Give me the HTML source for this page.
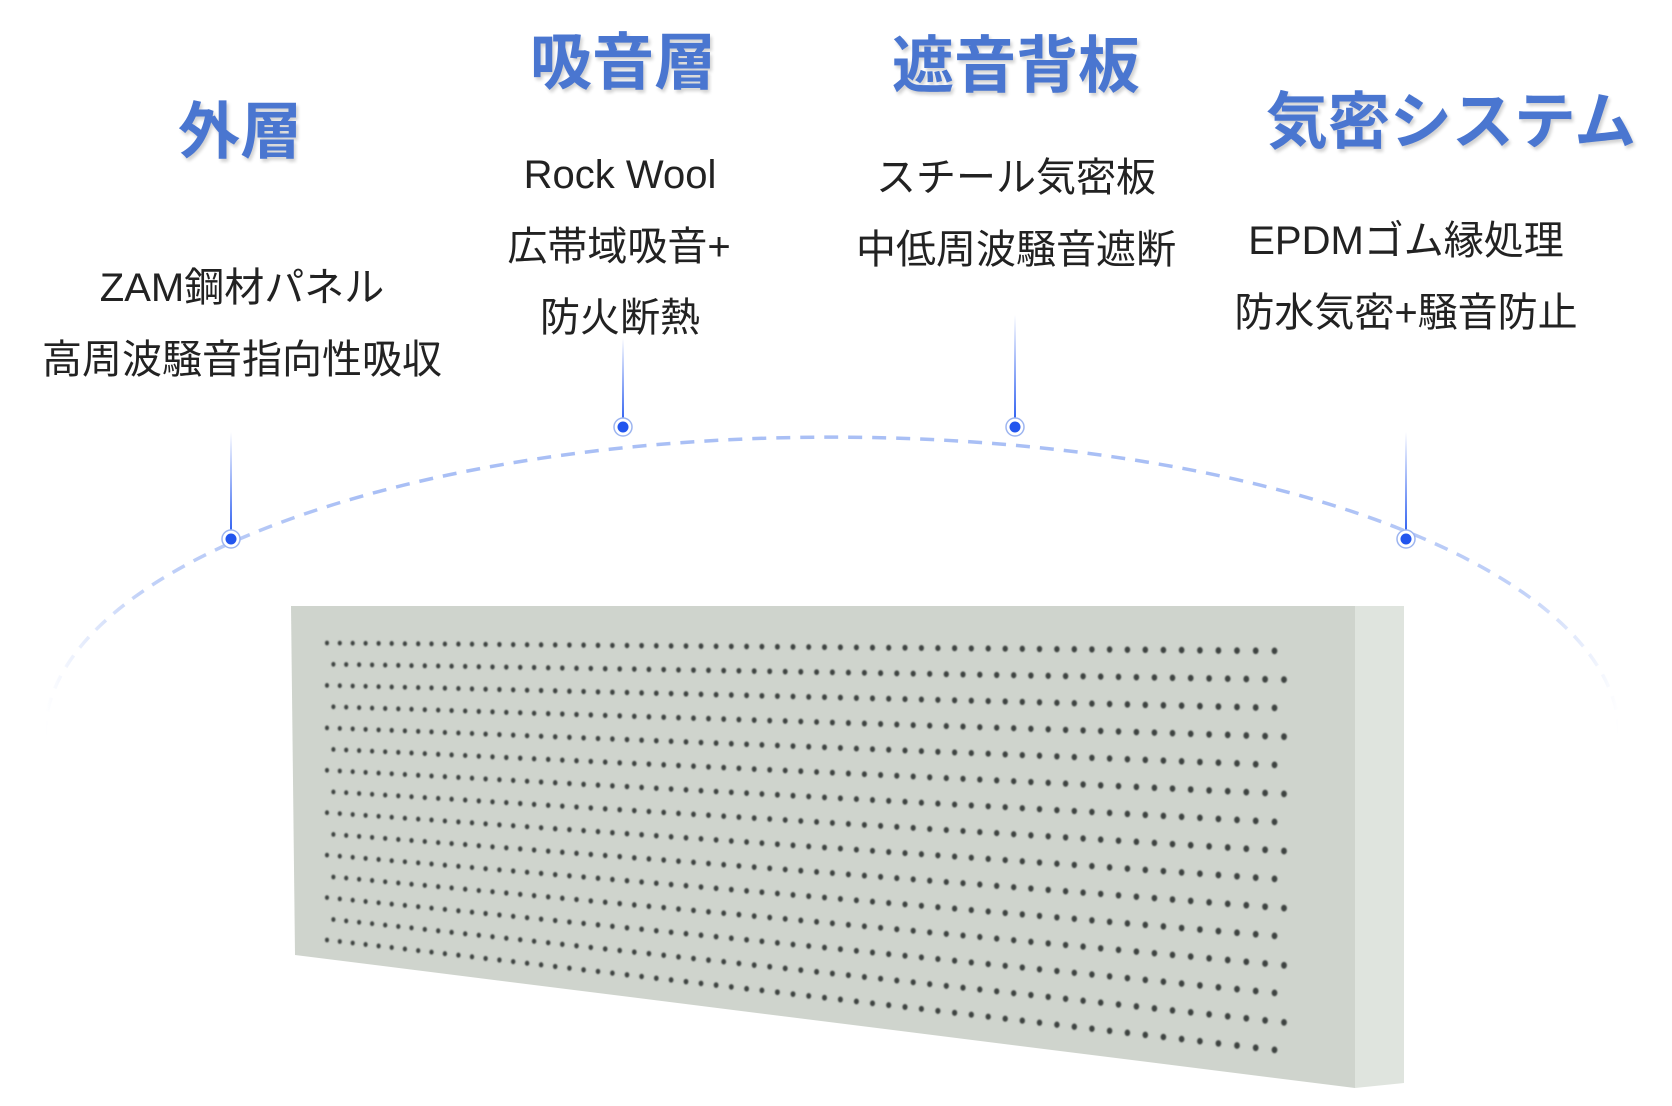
<!DOCTYPE html>
<html><head><meta charset="utf-8"><style>
html,body{margin:0;padding:0;background:#fff;}
body{width:1672px;height:1106px;position:relative;overflow:hidden;font-family:"Liberation Sans","Noto Sans CJK JP",sans-serif;}
.t{position:absolute;transform:translate(-50%,-50%);white-space:nowrap;color:#4a76d0;font-weight:bold;font-size:62px;text-shadow:2px 3px 3px rgba(0,0,0,0.18);line-height:1;}
.s{position:absolute;transform:translate(-50%,-50%);white-space:nowrap;color:#222;font-size:40px;line-height:1;}
svg{position:absolute;left:0;top:0;}
</style></head><body>
<svg id="sv" width="1672" height="1106" viewBox="0 0 1672 1106">
<defs>
<linearGradient id="ag" x1="0" x2="1" y1="0" y2="0">
<stop offset="0" stop-color="#a9bff5" stop-opacity="0"/>
<stop offset="0.06" stop-color="#a9bff5" stop-opacity="0.7"/>
<stop offset="0.2" stop-color="#a9bff5" stop-opacity="1"/>
<stop offset="0.8" stop-color="#a9bff5" stop-opacity="1"/>
<stop offset="0.94" stop-color="#a9bff5" stop-opacity="0.7"/>
<stop offset="1" stop-color="#a9bff5" stop-opacity="0"/>
</linearGradient>
<linearGradient id="lg" x1="0" x2="0" y1="0" y2="1">
<stop offset="0" stop-color="#2a5cf0" stop-opacity="0"/>
<stop offset="1" stop-color="#2a5cf0" stop-opacity="1"/>
</linearGradient>
<filter id="bl"><feGaussianBlur stdDeviation="0.7"/></filter>
</defs>
<path d="M45,735 A787,298 0 0 1 1619,735" fill="none" stroke="url(#ag)" stroke-width="3.5" stroke-dasharray="14,10"/>
<polygon points="1355,606 1404,606 1404,1083 1355,1088" fill="#dfe4de"/>
<polygon points="291,606 1355,606 1355,1088 295,955" fill="#cfd4cd"/>
<g id="holes" filter="url(#bl)"></g>
<rect x="230" y="432" width="2" height="104" fill="url(#lg)"/>
<rect x="622" y="338" width="2" height="86" fill="url(#lg)"/>
<rect x="1014" y="315" width="2" height="109" fill="url(#lg)"/>
<rect x="1405" y="432" width="2" height="104" fill="url(#lg)"/>
<g fill="#2255ee">
<circle cx="231" cy="539" r="9" fill="#fff" stroke="#9db5f0" stroke-width="1.5"/><circle cx="231" cy="539" r="5.5"/>
<circle cx="623" cy="427" r="9" fill="#fff" stroke="#9db5f0" stroke-width="1.5"/><circle cx="623" cy="427" r="5.5"/>
<circle cx="1015" cy="427" r="9" fill="#fff" stroke="#9db5f0" stroke-width="1.5"/><circle cx="1015" cy="427" r="5.5"/>
<circle cx="1406" cy="539" r="9" fill="#fff" stroke="#9db5f0" stroke-width="1.5"/><circle cx="1406" cy="539" r="5.5"/>
</g>
</svg>
<div class="t" style="left:240px;top:133px">外層</div>
<div class="t" style="left:623px;top:64px">吸音層</div>
<div class="t" style="left:1016px;top:67px">遮音背板</div>
<div class="t" style="left:1451px;top:123px">気密システム</div>
<div class="s" style="left:242px;top:288px">ZAM鋼材パネル</div>
<div class="s" style="left:242px;top:360px">高周波騒音指向性吸収</div>
<div class="s" style="left:620px;top:175px">Rock Wool</div>
<div class="s" style="left:619px;top:247px">広帯域吸音+</div>
<div class="s" style="left:620px;top:318px">防火断熱</div>
<div class="s" style="left:1016px;top:178px">スチール気密板</div>
<div class="s" style="left:1016px;top:250px">中低周波騒音遮断</div>
<div class="s" style="left:1406px;top:241px">EPDMゴム縁処理</div>
<div class="s" style="left:1406px;top:313px">防水気密+騒音防止</div>
<script>
(function(){
var g=document.getElementById('holes'),out='';
var rows=15,cols=62,r=1.22;
function f(u){return u/(u+r*(1-u));}
for(var i=0;i<rows;i++){
 var v=i/(rows-1);
 for(var j=0;j<cols;j++){
  var off=(i%2)?0.5:0;
  var uu=(j+off)/(cols-0.5);
  if(uu>1)continue;
  var u=f(uu);
  var x=327+(1284-327)*u;
  var yt=643+(651-643)*u, yb=940+(1051-940)*u;
  var y=yt+(yb-yt)*v;
  var rr=2.4+1.0*u;
  out+='<ellipse cx="'+x.toFixed(1)+'" cy="'+y.toFixed(1)+'" rx="'+(rr*0.85).toFixed(2)+'" ry="'+rr.toFixed(2)+'" fill="#3e4240"/>';
 }
}
g.innerHTML=out;
})();
</script>
</body></html>
